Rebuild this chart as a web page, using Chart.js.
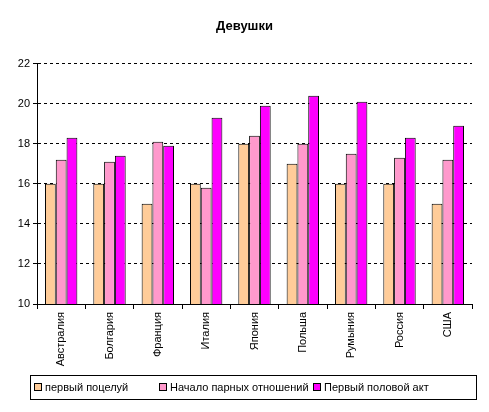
<!DOCTYPE html>
<html>
<head>
<meta charset="utf-8">
<script src="https://cdn.jsdelivr.net/npm/chart.js@4"></script>
<style>
  html, body { margin: 0; padding: 0; background: #fff; }
  .wrap { position: relative; width: 489px; height: 412px; }
  .legend {
    position: absolute; left: 30px; top: 375px; width: 447px; height: 25px;
    border: 1px solid #000; box-sizing: border-box;
    font: 11px "Liberation Sans", Arial, sans-serif; color: #000;
  }
  .legend-item { position: absolute; top: 5px; white-space: nowrap; }
  .legend-box {
    display: inline-block; width: 6px; height: 6px; border: 1px solid #000;
    margin-right: 3px; vertical-align: 0px;
  }
</style>
</head>
<body>
<div class="wrap">
  <canvas id="chart" width="489" height="412"></canvas>
  <div class="legend" id="legend"></div>
</div>
<script>
const categories = ['Австралия', 'Болгария', 'Франция', 'Италия', 'Япония', 'Польша', 'Румыния', 'Россия', 'США'];
const firstKiss = [16, 16, 15, 16, 18, 17, 16, 16, 15];
const relations = [17.2, 17.1, 18.1, 15.8, 18.4, 18, 17.5, 17.3, 17.2];
const firstSex = [18.3, 17.4, 17.9, 19.3, 19.9, 20.4, 20.1, 18.3, 18.9];
const seriesNames = ['первый поцелуй', 'Начало парных отношений', 'Первый половой акт'];
const seriesColors = ['#FFCC99', '#FF99CC', '#FF00FF'];
const yTicks = [10, 12, 14, 16, 18, 20, 22];

const font = { family: '"Liberation Sans", Arial, sans-serif', size: 11 };

const ctx = document.getElementById('chart').getContext('2d');
const chart = new Chart(ctx, {
  type: 'bar',
  data: {
    labels: categories,
    datasets: [firstKiss, relations, firstSex].map((d, i) => ({
      label: seriesNames[i],
      data: d,
      backgroundColor: seriesColors[i],
      borderColor: '#000',
      borderWidth: 1,
      categoryPercentage: 0.67,
      barPercentage: 1.0
    }))
  },
  options: {
    responsive: false,
    animation: false,
    layout: { padding: { left: 0, right: 0, top: 0, bottom: 42 } },
    plugins: {
      legend: { display: false },
      tooltip: { enabled: false },
      title: {
        display: true,
        text: 'Девушки',
        color: '#000',
        font: { family: font.family, size: 13, weight: 'bold' },
        padding: { top: 19, bottom: 29 }
      }
    },
    scales: {
      x: {
        grid: { display: true, drawOnChartArea: false, drawTicks: true, tickLength: 5, color: '#000', offset: true },
        border: { color: '#000', width: 1 },
        ticks: { color: '#000', font: font, minRotation: 90, maxRotation: 90, padding: 3, autoSkip: false },
        afterFit: (s) => { s.height = 66; }
      },
      y: {
        min: yTicks[0],
        max: yTicks[yTicks.length - 1],
        afterBuildTicks: (s) => { s.ticks = yTicks.map(v => ({ value: v })); },
        grid: { color: '#000', tickLength: 4, tickBorderDash: [], drawTicks: true },
        border: { color: '#000', width: 1, dash: [3, 3] },
        ticks: { color: '#000', font: font, padding: 3 },
        afterFit: (s) => { s.width = 37; }
      },
      // empty right axis: keeps the plot off the right edge so the title stays centred on the page
      yRight: {
        position: 'right',
        display: true,
        grid: { display: false },
        border: { display: false },
        ticks: { display: false },
        afterFit: (s) => { s.width = 17; }
      }
    }
  }
});

// legend drawn as html below the plot
const legendEl = document.getElementById('legend');
const legendLeft = [3, 128, 282];
chart.data.datasets.forEach((ds, i) => {
  const item = document.createElement('div');
  item.className = 'legend-item';
  item.style.left = legendLeft[i] + 'px';
  item.innerHTML = '<span class="legend-box" style="background:' + ds.backgroundColor + '"></span>' + ds.label;
  legendEl.appendChild(item);
});
</script>
</body>
</html>
